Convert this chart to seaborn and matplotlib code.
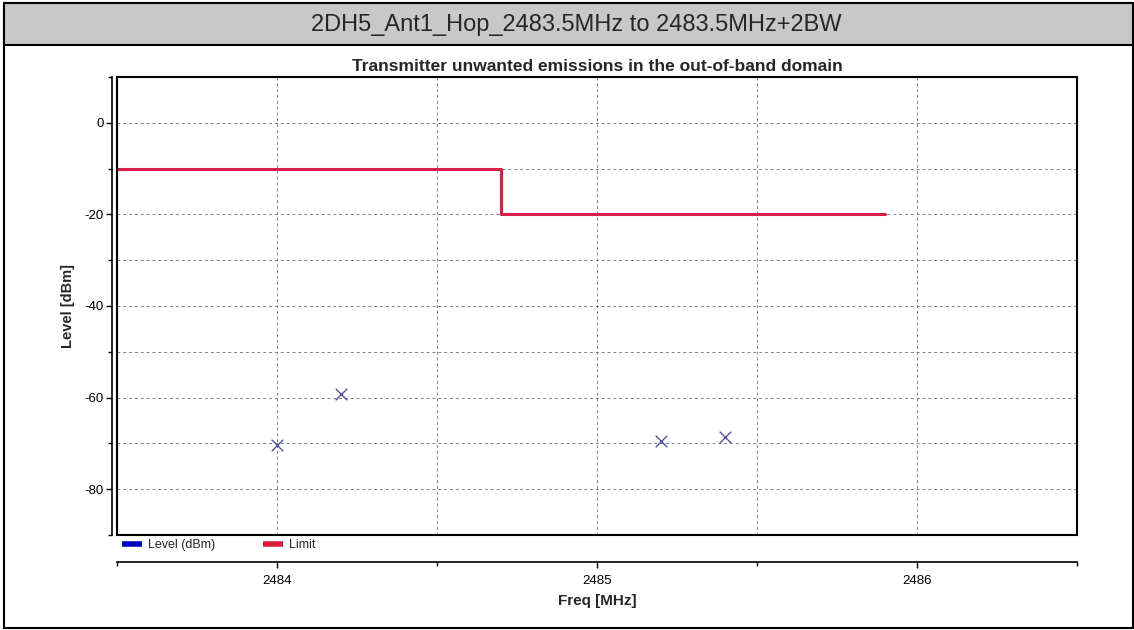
import numpy as np
import pandas as pd
import matplotlib
matplotlib.use('Agg')
import matplotlib.pyplot as plt
from matplotlib.lines import Line2D
from matplotlib.patches import Rectangle
from matplotlib.ticker import MultipleLocator
import seaborn as sns

# data
freq = [2484.0, 2484.2, 2485.2, 2485.4]
level = [-70.3, -59.2, -69.5, -68.6]

limit_freq = [2483.5, 2484.7, 2484.7, 2485.9]
limit_level = [-10, -10, -20, -20]

header = '2DH5_Ant1_Hop_2483.5MHz to 2483.5MHz+2BW'
title = 'Transmitter unwanted emissions in the out-of-band domain'

sns.set_style('white')
plt.rcParams['font.family'] = ['Liberation Sans', 'DejaVu Sans']
plt.rcParams['axes.unicode_minus'] = False

fig = plt.figure(figsize=(11.34, 6.3), dpi=100)

# outer box and grey header band
fig.patches.append(Rectangle((4 / 1134, 2 / 630), 1129 / 1134, 625 / 630, transform=fig.transFigure,
                             fill=False, edgecolor='black', linewidth=1.5))
fig.patches.append(Rectangle((4 / 1134, (630 - 45) / 630), 1129 / 1134, 42 / 630, transform=fig.transFigure,
                             facecolor='#c8c8c8', edgecolor='black', linewidth=1.5))
fig.text(576 / 1134, (630 - 25) / 630, header, ha='center', va='center', fontsize=17)

ax = fig.add_axes([117 / 1134, (630 - 535) / 630, 960 / 1134, 458 / 630])

lim = pd.DataFrame({'freq': limit_freq, 'level': limit_level})
sns.lineplot(data=lim, x='freq', y='level', sort=False, estimator=None,
             color='#d81e48', linewidth=2.2, ax=ax)
pts = pd.DataFrame({'freq': freq, 'level': level})
sns.scatterplot(data=pts, x='freq', y='level', marker='x', color='#5050aa',
                s=70, linewidth=1.0, ax=ax, zorder=5)

ax.set_xlim(2483.5, 2486.5)
ax.set_ylim(-90, 10)
ax.xaxis.set_major_locator(MultipleLocator(1))
ax.xaxis.set_minor_locator(MultipleLocator(0.5))
ax.yaxis.set_major_locator(MultipleLocator(20))
ax.yaxis.set_minor_locator(MultipleLocator(10))
ax.grid(which='both', color='#808080', linestyle=(0, (3, 3)), linewidth=0.7)

# axes drawn apart from the plot frame
for s in ['top', 'right']:
    ax.spines[s].set_visible(False)
ax.spines['left'].set_position(('outward', 3.6))
ax.spines['bottom'].set_position(('outward', 19.5))
for s in ['left', 'bottom']:
    ax.spines[s].set_color('black')
    ax.spines[s].set_linewidth(1.2)
ax.add_patch(Rectangle((0, 0), 1, 1, transform=ax.transAxes, fill=False,
                       edgecolor='black', linewidth=1.5, clip_on=False, zorder=6))

ax.tick_params(axis='both', which='both', direction='out', colors='black', labelsize=9.5,
               bottom=True, left=True)
ax.tick_params(axis='both', which='major', length=4, width=1)
ax.tick_params(axis='both', which='minor', length=3, width=1)
ax.tick_params(axis='x', pad=5)
ax.tick_params(axis='y', pad=2)
ax.set_yticks([0, -20, -40, -60, -80])

ax.set_title(title, fontsize=12.5, fontweight='bold', pad=4)
ax.set_xlabel('Freq [MHz]', fontsize=11, fontweight='bold', labelpad=5)
ax.set_ylabel('Level [dBm]', fontsize=10.5, fontweight='bold', labelpad=7)

handles = [Line2D([], [], color='#0000c8', linewidth=4, solid_capstyle='butt'),
           Line2D([], [], color='#e0193f', linewidth=4, solid_capstyle='butt')]
ax.legend(handles, ['Level (dBm)', 'Limit'], loc='center left', bbox_to_anchor=(0.005, -0.022),
          ncol=2, frameon=False, fontsize=9, handlelength=1.6, handletextpad=0.5,
          columnspacing=3.8, borderpad=0, borderaxespad=0)

fig.savefig('out.png', dpi=100)
